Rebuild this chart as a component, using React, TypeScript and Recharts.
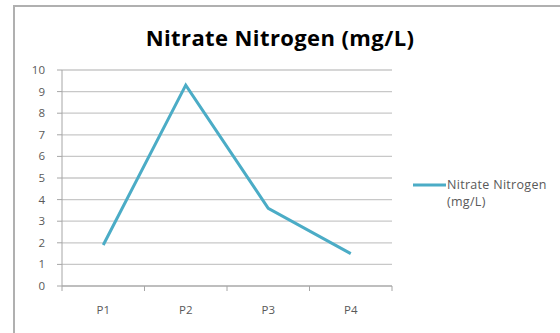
import React from "react";
import { LineChart, Line, XAxis, YAxis, CartesianGrid, Legend } from "recharts";

// Nitrate nitrogen concentration at each sampling point
const categories = ["P1", "P2", "P3", "P4"];
const nitrateValues = [1.9, 9.3, 3.6, 1.5];
const yTicks = [0, 1, 2, 3, 4, 5, 6, 7, 8, 9, 10];
const seriesName = "Nitrate Nitrogen (mg/L)";

const data = categories.map((name, i) => ({ name, nitrate: nitrateValues[i] }));

const W = 560;
const H = 333;
const PLOT_LEFT = 62;
const PLOT_RIGHT = 392;
const PLOT_TOP = 70;
const PLOT_BOTTOM = 286;
const Y_AXIS_WIDTH = 45;
const FONT = "'Open Sans', Lato, 'DejaVu Sans', sans-serif";
const LINE_COLOR = "#4BACC6";
const AXIS_COLOR = "#a6a6a6";
const TEXT_COLOR = "#595959";
const FRAME_COLOR = "#b0b0b0";

const bandWidth = (PLOT_RIGHT - PLOT_LEFT) / categories.length;

// Category label centred in its band, with tick marks on the band boundaries
const CategoryTick = (props: any) => {
  const { x, payload, index } = props;
  const half = payload && payload.offset ? payload.offset : bandWidth / 2;
  const isLast = index === categories.length - 1;
  return (
    <g>
      <line x1={x - half} x2={x - half} y1={PLOT_BOTTOM} y2={PLOT_BOTTOM + 5} stroke={AXIS_COLOR} strokeWidth={1} />
      {isLast && (
        <line x1={x + half} x2={x + half} y1={PLOT_BOTTOM} y2={PLOT_BOTTOM + 5} stroke={AXIS_COLOR} strokeWidth={1} />
      )}
      <text x={x} y={PLOT_BOTTOM + 28} textAnchor="middle" fill={TEXT_COLOR} fontSize={11.5} fontFamily={FONT}>
        {payload.value}
      </text>
    </g>
  );
};

const LegendContent = () => (
  <div
    style={{
      display: "flex",
      alignItems: "flex-start",
      fontFamily: FONT,
      fontSize: 12.5,
      letterSpacing: 0.3,
      color: TEXT_COLOR,
      lineHeight: "17px",
    }}
  >
    <svg width={33} height={17} style={{ flex: "none" }}>
      <line x1={0} x2={33} y1={9} y2={9} stroke={LINE_COLOR} strokeWidth={3} />
    </svg>
    <div style={{ paddingLeft: 1, whiteSpace: "nowrap" }}>
      Nitrate Nitrogen
      <br />
      (mg/L)
    </div>
  </div>
);

export default function App() {
  return (
    <div style={{ position: "absolute", left: 0, top: 0, width: W, height: H, background: "#fff", overflow: "hidden" }}>
      {/* chart frame: only its top and left edges fall inside the view */}
      <div style={{ position: "absolute", left: 13, top: 5, width: W, height: 2, background: FRAME_COLOR }} />
      <div style={{ position: "absolute", left: 13, top: 5, width: 2, height: H, background: FRAME_COLOR }} />
      <div
        style={{
          position: "absolute",
          left: 0,
          width: W,
          top: 22,
          textAlign: "center",
          fontFamily: FONT,
          fontWeight: 700,
          fontSize: 22,
          letterSpacing: 0.4,
          color: "#000",
          lineHeight: "30px",
        }}
      >
        {seriesName}
      </div>
      <div style={{ position: "absolute", left: 0, top: 0 }}>
        <LineChart
          width={W}
          height={H}
          data={data}
          margin={{ top: PLOT_TOP, left: PLOT_LEFT - Y_AXIS_WIDTH, right: W - PLOT_RIGHT, bottom: 0 }}
        >
          <CartesianGrid vertical={false} stroke="#c8c8c8" strokeWidth={1.3} />
          <XAxis
            dataKey="name"
            scale="band"
            height={H - PLOT_BOTTOM}
            axisLine={{ stroke: AXIS_COLOR }}
            tickLine={false}
            tick={<CategoryTick />}
            interval={0}
          />
          <YAxis
            width={Y_AXIS_WIDTH}
            domain={[0, 10]}
            ticks={yTicks}
            interval={0}
            axisLine={{ stroke: AXIS_COLOR }}
            tickLine={{ stroke: AXIS_COLOR }}
            tickSize={5}
            tickMargin={12}
            tick={{ fill: TEXT_COLOR, fontSize: 11.5, fontFamily: FONT }}
          />
          <Legend
            layout="vertical"
            align="center"
            verticalAlign="middle"
            content={<LegendContent />}
            wrapperStyle={{ position: "absolute", left: 413, top: 176, width: 147 }}
          />
          <Line
            type="linear"
            dataKey="nitrate"
            name={seriesName}
            stroke={LINE_COLOR}
            strokeWidth={3}
            dot={false}
            activeDot={false}
            isAnimationActive={false}
          />
        </LineChart>
      </div>
    </div>
  );
}
